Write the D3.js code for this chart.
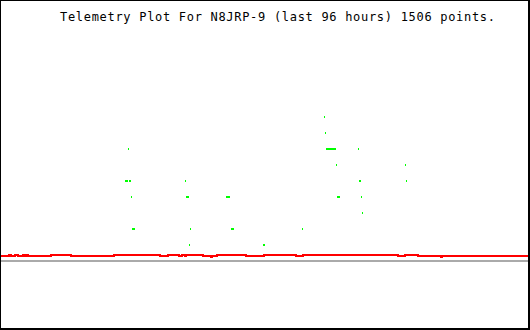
<!DOCTYPE html>
<html>
<head>
<meta charset="utf-8">
<script src="https://cdn.jsdelivr.net/npm/d3@7"></script>
<style>
  html, body { margin: 0; padding: 0; background: #fff; }
  svg { display: block; }
</style>
</head>
<body>
<div id="chart"></div>
<script>
const title = "Telemetry Plot For N8JRP-9 (last 96 hours) 1506 points."
const hoursSpan = 96

// red channel: [hours since start, value] steps
const redHours = [0, 1.46, 1.82, 2.55, 3.10, 4.01, 4.37, 4.55, 4.92, 9.11, 12.75, 20.58, 28.96, 30.42,
  32.42, 32.97, 33.52, 33.70, 36.80, 38.32, 38.51, 39.35, 44.63, 47.91, 53.74, 55.01, 72.32, 73.59,
  75.96, 80.15, 80.33, 96]
const redValues = [0.3125, 0.375, 0.3125, 0.375, 0.3125, 0.375, 0.3125, 0.375, 0.3125, 0.375, 0.3125, 0.375, 0.3125, 0.375,
  0.3125, 0.375, 0.3125, 0.375, 0.3125, 0.25, 0.3125, 0.375, 0.3125, 0.375, 0.3125, 0.375, 0.3125, 0.375,
  0.3125, 0.25, 0.3125, 0.3125]

// green channel: sparse counts
const greenHours = [22.59, 22.77, 22.95, 23.13, 23.32, 23.50, 23.68, 23.86, 24.05, 24.23,
  33.52, 33.70, 33.88, 34.07, 34.25, 34.43, 40.99, 41.17, 41.35, 41.53, 41.90, 42.08, 42.26,
  47.73, 47.91, 54.83, 58.84, 59.02, 59.20, 59.39, 59.57, 59.75, 59.93, 60.11, 60.30, 60.48, 60.66, 60.84,
  61.03, 61.21, 61.39, 61.57, 65.03, 65.21, 65.39, 65.58, 65.76, 73.59, 73.77]
const greenValues = [5, 5, 5, 7, 5, 5, 4, 2, 2, 2,
  5, 4, 4, 4, 1, 2, 4, 4, 4, 4, 2, 2, 2,
  1, 1, 2, 9, 8, 7, 7, 7, 7, 7, 7, 7, 7, 7, 7,
  6, 4, 4, 4, 7, 5, 5, 4, 3, 6, 5]

const W = 530, H = 330

const svg = d3.select("#chart").append("svg")
  .attr("width", W).attr("height", H)
  .attr("shape-rendering", "crispEdges")

const x = d3.scaleLinear().domain([0, hoursSpan]).range([1, 528])
const y = d3.scaleLinear().domain([0, 1]).range([261, 245])

// frame
svg.append("rect").attr("x", 0).attr("y", 0).attr("width", W).attr("height", H).attr("fill", "#000")
svg.append("rect").attr("x", 1).attr("y", 1).attr("width", W - 3).attr("height", H - 3).attr("fill", "#fff")

svg.append("text")
  .attr("x", 60).attr("y", 21)
  .attr("textLength", 435).attr("lengthAdjust", "spacing")
  .style("font-family", "'DejaVu Sans Mono', monospace")
  .style("font-size", "12px")
  .attr("fill", "#000")
  .text(title)

// baseline
svg.append("line")
  .attr("x1", x(0)).attr("x2", x(hoursSpan))
  .attr("y1", y(0)).attr("y2", y(0))
  .attr("stroke", "#aaaaaa").attr("stroke-width", 2)

const red = redHours.map((h, i) => [h, redValues[i]])
const line = d3.line()
  .curve(d3.curveStepAfter)
  .x(d => x(d[0]))
  .y(d => y(d[1]))

svg.append("path")
  .attr("d", line(red))
  .attr("fill", "none")
  .attr("stroke", "#ff0000")
  .attr("stroke-width", 2)

svg.append("g").selectAll("rect")
  .data(greenHours.map((h, i) => [h, greenValues[i]]))
  .join("rect")
  .attr("x", d => Math.round(x(d[0])))
  .attr("y", d => y(d[1]) - 1)
  .attr("width", 1).attr("height", 2)
  .attr("fill", "#00ff00")
</script>
</body>
</html>
